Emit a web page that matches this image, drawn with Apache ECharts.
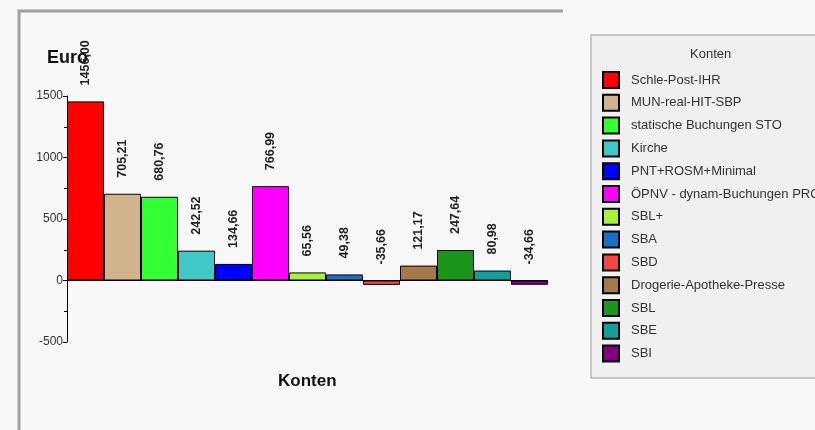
<!DOCTYPE html>
<html><head><meta charset="utf-8">
<script src="https://cdn.jsdelivr.net/npm/echarts@6/dist/echarts.min.js"></script>
<style>html,body{margin:0;padding:0;background:#f7f7f7}#c{width:815px;height:430px}</style>
</head><body><div id="c"></div>
<script>
const categories = ["Schle-Post-IHR","MUN-real-HIT-SBP","statische Buchungen STO","Kirche","PNT+ROSM+Minimal","ÖPNV - dynam-Buchungen PRO","SBL+","SBA","SBD","Drogerie-Apotheke-Presse","SBL","SBE","SBI"];
const values = [1456.00, 705.21, 680.76, 242.52, 134.66, 766.99, 65.56, 49.38, -35.66, 121.17, 247.64, 80.98, -34.66];
const colors = ["#ff0000","#d2b48c","#33ff33","#40c8c8","#0000ff","#ff00ff","#a6f23a","#1a6fc4","#f04848","#a57a48","#1a961a","#139e9e","#800080"];
const yTicks = [-500, 0, 500, 1000, 1500];

const FONT = 'Liberation Sans, Arial, sans-serif';
const chart = echarts.init(document.getElementById('c'));
const series = categories.map((name, i) => ({
  name: name,
  type: 'bar',
  stack: 'all',
  barCategoryGap: 0,
  data: categories.map((_, j) => j === i ? values[i] : '-'),
  itemStyle: { color: colors[i], borderColor: '#000', borderWidth: 1 },
  label: {
    show: true, position: 'top', rotate: 90, align: 'left', verticalAlign: 'middle',
    distance: 16, fontSize: 12.5, fontWeight: 'bold', color: '#222', fontFamily: FONT,
    formatter: p => p.value.toFixed(2).replace('.', ',')
  }
}));
chart.setOption({
  backgroundColor: '#f7f7f7',
  animation: false,
  grid: { left: 67, right: 267, top: 96, bottom: 88 },
  xAxis: {
    type: 'category', data: categories,
    axisLine: { show: false }, axisTick: { show: false }, axisLabel: { show: false }
  },
  yAxis: {
    type: 'value', min: -500, max: 1500, interval: 500,
    axisLine: { show: true, lineStyle: { color: '#000' } },
    axisTick: { show: true, length: 4, lineStyle: { color: '#000' } },
    minorTick: { show: true, splitNumber: 2, length: 3, lineStyle: { color: '#000' } },
    splitLine: { show: false },
    axisLabel: { color: '#333', fontSize: 12, fontFamily: FONT, margin: 4,
      formatter: v => yTicks.includes(v) ? String(v) : '' }
  },
  legend: {
    orient: 'vertical', left: 597, top: 66, itemWidth: 16, itemHeight: 16, itemGap: 4.8,
    icon: 'rect', data: categories,
    textStyle: { fontSize: 13, lineHeight: 16, color: '#333', fontFamily: FONT, padding: [0, 0, 0, 7] }
  },
  graphic: [
    { type: 'rect', z: -10, shape: { x: 591, y: 35, width: 240, height: 343 },
      style: { fill: '#f0f0f0', stroke: '#999', lineWidth: 1 } },
    { type: 'polyline', z: -10, shape: { points: [[19, 430], [19, 11], [563, 11]] },
      style: { stroke: '#a0a0a0', lineWidth: 3, fill: null } },
    { type: 'text', left: 690, top: 48, style: { text: 'Konten', fontSize: 13, fill: '#333', fontFamily: FONT } },
    { type: 'text', left: 47, top: 49, style: { text: 'Euro', fontSize: 18, fontWeight: 'bold', fill: '#111', fontFamily: FONT } },
    { type: 'text', left: 278, top: 373, style: { text: 'Konten', fontSize: 17, fontWeight: 'bold', fill: '#111', fontFamily: FONT } },
    { type: 'line', shape: { x1: 67, y1: 280.5, x2: 548, y2: 280.5 }, style: { stroke: '#000', lineWidth: 1 }, z: 100 }
  ],
  series: series
});
</script></body></html>
